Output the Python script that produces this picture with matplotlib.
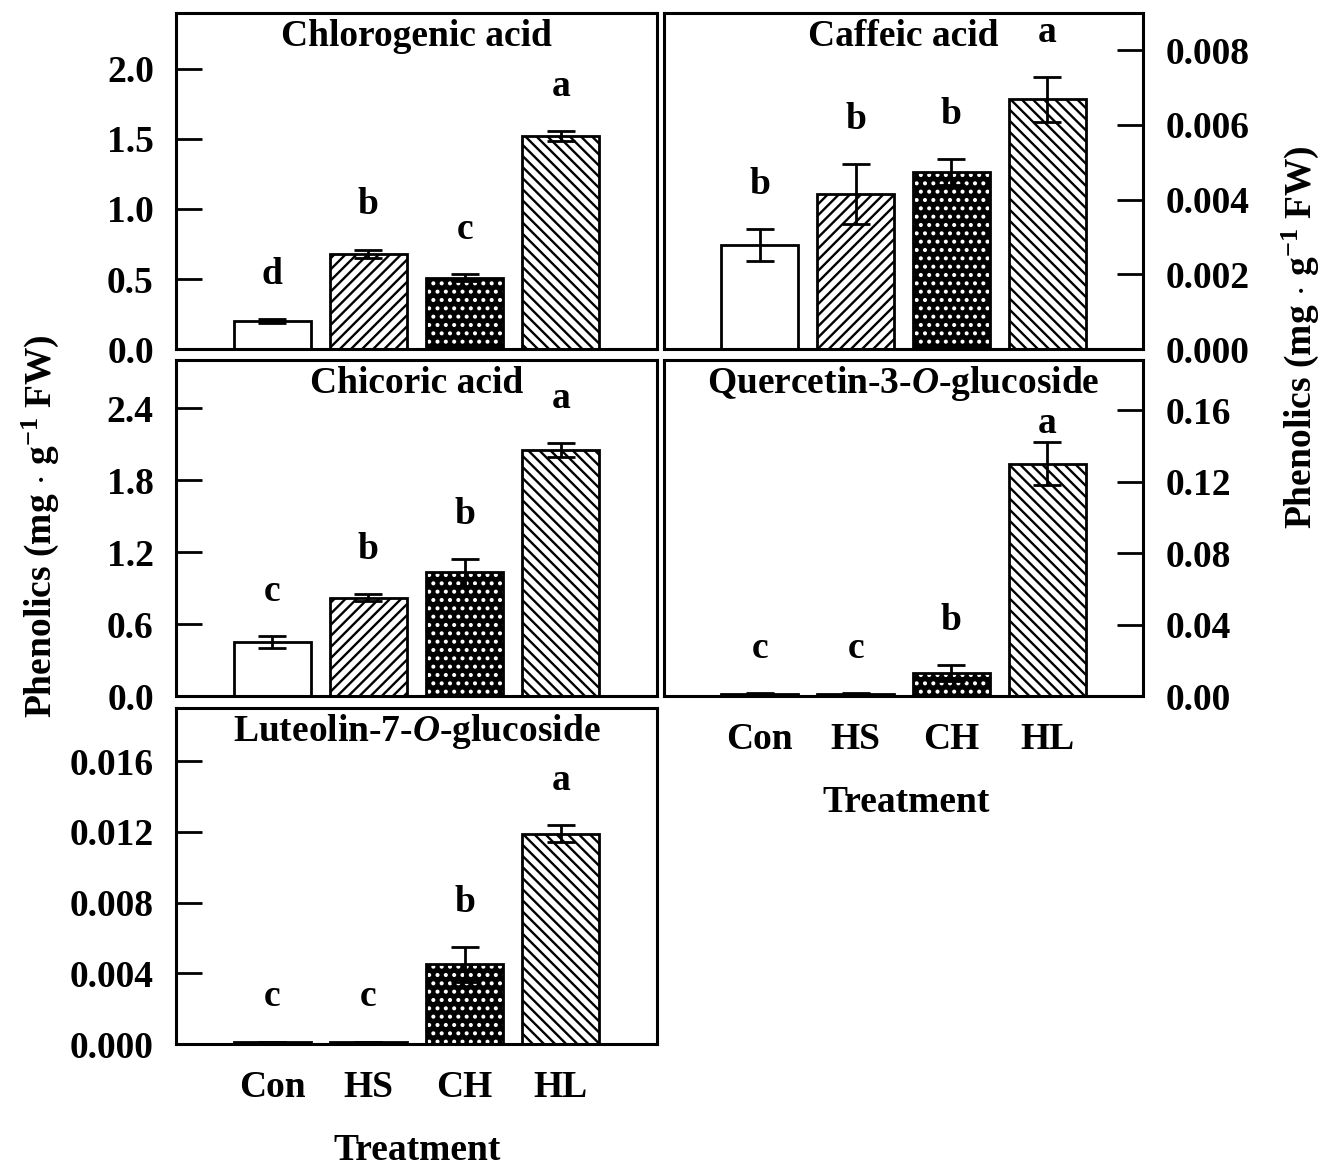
import numpy as np
import matplotlib
matplotlib.use("Agg")
import matplotlib.pyplot as plt

plt.rcParams["font.family"] = ["Liberation Serif", "DejaVu Serif"]
plt.rcParams["font.weight"] = "bold"
plt.rcParams["mathtext.fontset"] = "custom"
plt.rcParams["mathtext.rm"] = "Liberation Serif:bold"
plt.rcParams["mathtext.it"] = "Liberation Serif:bold:italic"
plt.rcParams["mathtext.bf"] = "Liberation Serif:bold"
plt.rcParams["hatch.linewidth"] = 1.7

treatments = ["Con", "HS", "CH", "HL"]

chlorogenic_mean = [0.20, 0.68, 0.51, 1.52]
chlorogenic_err = [0.015, 0.03, 0.025, 0.035]
chlorogenic_sig = ["d", "b", "c", "a"]

caffeic_mean = [0.00278, 0.00415, 0.00474, 0.00669]
caffeic_err = [0.00043, 0.00080, 0.00035, 0.00060]
caffeic_sig = ["b", "b", "b", "a"]

chicoric_mean = [0.45, 0.82, 1.03, 2.05]
chicoric_err = [0.05, 0.03, 0.11, 0.06]
chicoric_sig = ["c", "b", "b", "a"]

quercetin_mean = [0.0012, 0.0012, 0.0130, 0.1300]
quercetin_err = [0.0003, 0.0003, 0.0045, 0.0120]
quercetin_sig = ["c", "c", "b", "a"]

luteolin_mean = [0.00012, 0.00012, 0.0045, 0.0119]
luteolin_err = [0.00002, 0.00002, 0.0010, 0.0005]
luteolin_sig = ["c", "c", "b", "a"]

FS = 27


def draw_bars(ax, x, mean):
    # Con: plain, HS: forward stripes, CH: white dots on black, HL: back stripes
    ax.bar(x[0], mean[0], width=0.8, color="white", edgecolor="black", linewidth=2.0, zorder=2)
    ax.bar(x[1], mean[1], width=0.8, color="white", edgecolor="black", hatch="///",
           linewidth=2.0, zorder=2)
    ax.bar(x[2], mean[2], width=0.8, color="black", edgecolor="white", hatch="..",
           linewidth=0, zorder=2)
    ax.bar(x[2], mean[2], width=0.8, color="none", edgecolor="black", linewidth=2.0, zorder=2)
    ax.bar(x[3], mean[3], width=0.8, color="white", edgecolor="black", hatch="\\\\\\",
           linewidth=2.0, zorder=2)


def draw_panel(ax, title, mean, err, sig, ylim, yticks, fmt, right=False,
               xlabels=False, sig_cap=1.0):
    x = np.arange(1, len(mean) + 1)
    draw_bars(ax, x, mean)
    ax.errorbar(x, mean, yerr=err, fmt="none", ecolor="black",
                elinewidth=2.0, capsize=10, capthick=2.0, zorder=3)
    span = ylim[1] - ylim[0]
    for xi, m, e, s in zip(x, mean, err, sig):
        y = min(m + e + 0.133 * span, sig_cap * span)
        ax.text(xi, y, s, ha="center", va="center", fontsize=FS, fontweight="bold")
    ax.set_xlim(0, 5)
    ax.set_ylim(*ylim)
    ax.set_yticks(yticks)
    ax.set_yticklabels([fmt.format(v) for v in yticks])
    ax.set_xticks(x)
    if xlabels:
        ax.set_xticklabels(treatments)
    else:
        ax.set_xticklabels([])
    ax.tick_params(axis="x", length=0, pad=19, labelsize=FS)
    ax.tick_params(axis="y", direction="in", length=19, width=2, pad=16, labelsize=FS)
    if right:
        ax.yaxis.tick_right()
    for sp in ax.spines.values():
        sp.set_linewidth(2.2)
    ax.text(0.5, 0.93, title, transform=ax.transAxes, ha="center", va="center",
            fontsize=FS, fontweight="bold")


fig = plt.figure(figsize=(13.25, 11.69), dpi=100)
W, H = 1325.0, 1169.0


def axes_px(x0, x1, y0, y1):
    return fig.add_axes([x0 / W, 1 - y1 / H, (x1 - x0) / W, (y1 - y0) / H])


ax1 = axes_px(176, 657, 13, 349)
ax2 = axes_px(664, 1143, 13, 349)
ax3 = axes_px(176, 657, 360, 696)
ax4 = axes_px(664, 1143, 360, 696)
ax5 = axes_px(176, 657, 708, 1044)

draw_panel(ax1, "Chlorogenic acid", chlorogenic_mean, chlorogenic_err, chlorogenic_sig,
           (0, 2.4), [0.0, 0.5, 1.0, 1.5, 2.0], "{:.1f}")
draw_panel(ax2, "Caffeic acid", caffeic_mean, caffeic_err, caffeic_sig,
           (0, 0.009), [0.0, 0.002, 0.004, 0.006, 0.008], "{:.3f}", right=True)
draw_panel(ax3, "Chicoric acid", chicoric_mean, chicoric_err, chicoric_sig,
           (0, 2.8), [0.0, 0.6, 1.2, 1.8, 2.4], "{:.1f}")
draw_panel(ax4, "Quercetin-3-$\\mathit{O}$-glucoside", quercetin_mean, quercetin_err,
           quercetin_sig, (0, 0.188), [0.0, 0.04, 0.08, 0.12, 0.16], "{:.2f}",
           right=True, xlabels=True, sig_cap=0.81)
draw_panel(ax5, "Luteolin-7-$\\mathit{O}$-glucoside", luteolin_mean, luteolin_err,
           luteolin_sig, (0, 0.019), [0.0, 0.004, 0.008, 0.012, 0.016], "{:.3f}",
           xlabels=True)

ylab = "Phenolics (mg $\\cdot$ g$^{-1}$ FW)"
fig.text(40 / W, 1 - 526 / H, ylab, rotation=90, ha="center", va="center",
         fontsize=FS, fontweight="bold")
fig.text(1300 / W, 1 - 337 / H, ylab, rotation=90, ha="center", va="center",
         fontsize=FS, fontweight="bold")
fig.text(417 / W, 1 - 1150 / H, "Treatment", ha="center", va="center",
         fontsize=FS, fontweight="bold")
fig.text(906 / W, 1 - 803 / H, "Treatment", ha="center", va="center",
         fontsize=FS, fontweight="bold")

fig.savefig("out.png", dpi=100)
